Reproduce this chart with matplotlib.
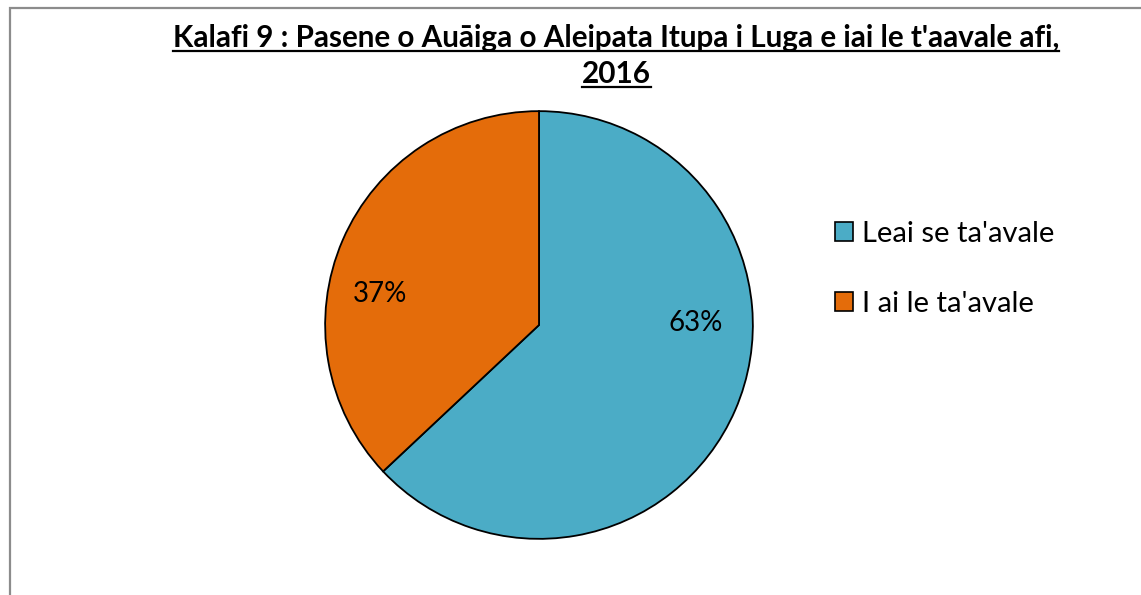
import matplotlib
matplotlib.use("Agg")
import matplotlib.pyplot as plt
from matplotlib.patches import Rectangle
from matplotlib.lines import Line2D

labels = ["Leai se ta'avale", "I ai le ta'avale"]
values = [63, 37]
colors = ["#4BACC6", "#E46C0A"]
title_lines = ["Kalafi 9 : Pasene o Auāiga o Aleipata Itupa i Luga e iai le t'aavale afi,", "2016"]

plt.rcParams["font.family"] = ["Lato", "DejaVu Sans"]

W, H = 1141, 595
fig = plt.figure(figsize=(W / 100, H / 100), dpi=100)

# chart frame (only left and top edges visible in the crop)
fig.patches.append(Rectangle((10 / W, -0.1), 1.2, (H - 8) / H + 0.1, transform=fig.transFigure,
                             fill=False, edgecolor="#8c8c8c", linewidth=1.6))

# pie axes: centre (539, 325), radius 216 px
cx, cy, r = 539, 325, 216
ax = fig.add_axes([(cx - r) / W, (H - cy - r) / H, 2 * r / W, 2 * r / H])
wedges, texts, autotexts = ax.pie(values, colors=colors, startangle=90, counterclock=False,
                                  autopct="%d%%", radius=1,
                                  wedgeprops=dict(edgecolor="black", linewidth=1.3),
                                  textprops=dict(fontsize=20, color="black"))
ax.set_xlim(-1.01, 1.01)
ax.set_ylim(-1.01, 1.01)
ax.set_aspect("equal")
ax.axis("off")

# Excel's best-fit label spots
autotexts[0].set_position(((697 - cx) / r, (cy - 323) / r))
autotexts[1].set_position(((378 - cx) / r, (cy - 294) / r))

leg = fig.legend(wedges, labels, loc="center left", bbox_to_anchor=(809 / W, (H - 269) / H),
                 frameon=False, fontsize=21, handlelength=0.62, handleheight=0.62,
                 handletextpad=0.3, labelspacing=1.5)
for h in leg.legend_handles:
    h.set_edgecolor("black")
    h.set_linewidth(1.2)

# title, bold and underlined
t1 = fig.text(616 / W, (H - 47) / H, title_lines[0], ha="center", va="baseline",
              fontsize=21.3, fontweight="bold")
t2 = fig.text(616 / W, (H - 83) / H, title_lines[1], ha="center", va="baseline",
              fontsize=21.3, fontweight="bold")
fig.canvas.draw()
rend = fig.canvas.get_renderer()
for t, ypx in [(t1, 51), (t2, 87)]:
    bb = t.get_window_extent(rend)
    fig.lines.append(Line2D([bb.x0 / W, bb.x1 / W], [(H - ypx) / H] * 2,
                            transform=fig.transFigure, color="black", linewidth=1.6))

fig.savefig("out.png", dpi=100)
